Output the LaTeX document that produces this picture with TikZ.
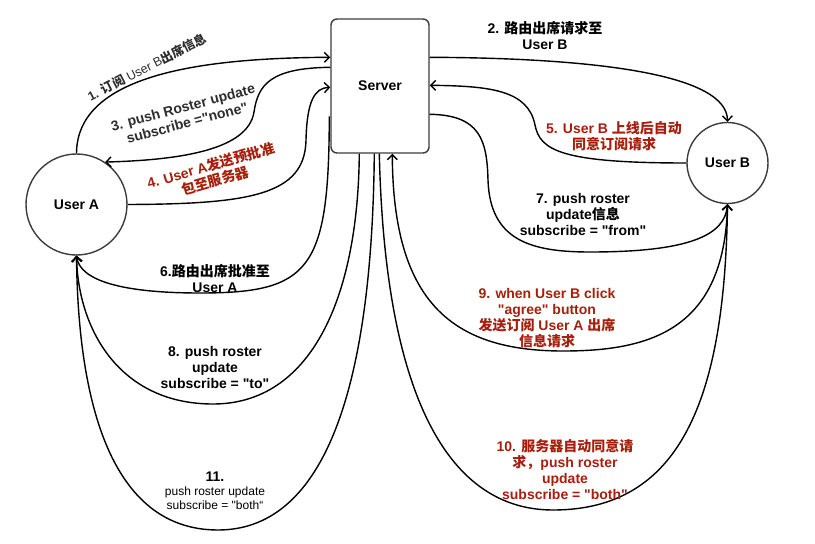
\documentclass[tikz,border=0pt]{standalone}
\usepackage{fontspec}
\setmainfont{Liberation Sans}[Ligatures=TeXOff]
\newfontfamily\cjk{Noto Sans CJK SC}
\usetikzlibrary{arrows.meta,calc}
\definecolor{lblred}{RGB}{168,30,12}
\definecolor{edgegray}{RGB}{60,60,60}
\definecolor{txtgray}{RGB}{45,45,45}
\newcommand\zh[1]{{\cjk #1}}
\tikzset{
  conn/.style={line width=1.4pt, -{Straight Barb[length=5pt,width=10pt]}},
  lbl/.style={font=\bfseries\fontsize{14}{16}\selectfont, align=center, inner sep=0pt},
  redlbl/.style={lbl, text=lblred},
  usernode/.style={circle, draw=edgegray, line width=1.4pt, inner sep=0pt,
    font=\bfseries\fontsize{14}{16}\selectfont},
  servernode/.style={rectangle, rounded corners=6pt, draw=edgegray, line width=1.4pt,
    minimum width=98pt, minimum height=134pt, font=\bfseries\fontsize{14}{16}\selectfont}
}
\begin{document}
\begin{tikzpicture}[x=1pt,y=-1pt]
\useasboundingbox (0,0) rectangle (815,544);
% nodes
\node[servernode] (S) at (380,86) {Server};
\node[usernode, minimum size=101pt] (A) at (76.5,204.5) {User A};
\node[usernode, minimum size=81pt] (B) at (727.5,163) {User B};
% anchor points on server
\coordinate (S1) at ($(S.north west)+(0,39)$);
\coordinate (S3) at ($(S.north west)+(0,49)$);
\coordinate (S4) at ($(S.north west)+(0,69)$);
\coordinate (S6) at ($(S.north west)+(-1,98)$);
\coordinate (S2) at ($(S.north east)+(0,39)$);
\coordinate (S5) at ($(S.north east)+(0,67)$);
\coordinate (S7) at ($(S.north east)+(0,96)$);
\coordinate (S8) at ($(S.south west)+(29,0)$);
\coordinate (S11) at ($(S.south west)+(44,0)$);
\coordinate (S10) at ($(S.south west)+(49,0)$);
\coordinate (S9) at ($(S.south west)+(62,0)$);
% connectors
\draw[conn] (A.90) .. controls (77,75) and (200,58) .. (S1);
\draw[conn] (S2) .. controls (600,58) and (727,75) .. (B.90);
\draw[conn] (S3) .. controls (270,68) and (258,85) .. (254,112) .. controls (248,150) and (180,160) .. (A.56);
\draw[conn] (A.0) .. controls (250,204) and (305,195) .. (306,140) .. controls (307,100) and (315,88) .. (S4);
\draw[conn] (B.180) .. controls (560,163) and (540,150) .. (535,125) .. controls (528,90) and (490,86) .. (S5);
\draw[conn] (S6) .. controls (329,270) and (310,293) .. (200,293) .. controls (120,293) and (80,280) .. (A.270);
\draw[conn] (S7) .. controls (480,115) and (487,140) .. (488,180) .. controls (490,240) and (530,252) .. (590,252) .. controls (690,252) and (725,235) .. (B.270);
\draw[conn] (S8) .. controls (358,300) and (310,404) .. (213,404) .. controls (120,404) and (78,330) .. (A.270);
\draw[conn] (B.270) .. controls (725,330) and (650,351) .. (563,351) .. controls (450,351) and (393,300) .. (S9);
\draw[conn] (S10) .. controls (385,400) and (450,510) .. (553,510) .. controls (680,510) and (725,400) .. (B.270);
\draw[conn] (S11) .. controls (372,400) and (320,530) .. (218,530) .. controls (110,530) and (78,400) .. (A.270);
% labels
\node[lbl, text=txtgray, rotate=27, font=\fontsize{12.5}{15}\selectfont] (l1) at (147,67)
  {{\bfseries 1. \zh{订阅}} User B{\bfseries\zh{出席信息}}};
\node[lbl] (l2) at (545,35) {2. \zh{路由出席请求至}\\User B};
\node[lbl, text=txtgray, rotate=15] (l3) at (185,115) {3. push Roster update\\subscribe ="none"};
\node[redlbl, rotate=16] (l4) at (213,173) {4. User A\zh{发送预批准}\\\zh{包至服务器}};
\node[redlbl] (l5) at (614,136) {5. User B \zh{上线后自动}\\\zh{同意订阅请求}};
\node[lbl] (l6) at (215,278) {6.\zh{路由出席批准至}\\User A};
\node[lbl] (l7) at (583,214) {7. push roster\\update\zh{信息}\\subscribe = "from"};
\node[lbl] (l8) at (215,367) {8. push roster\\update\\subscribe = "to"};
\node[redlbl] (l9) at (547,318) {9. when User B click\\"agree" button\\\zh{发送订阅} User A \zh{出席}\\\zh{信息请求}};
\node[redlbl] (l10) at (565,469) {10. \zh{服务器自动同意请}\\\zh{求，}push roster\\update\\subscribe = "both"};
\node[lbl, font=\fontsize{12}{14}\selectfont] (l11) at (215,491)
  {{\bfseries\fontsize{14}{14}\selectfont 11.}\\push roster update\\subscribe = "both“};
\end{tikzpicture}
\end{document}
